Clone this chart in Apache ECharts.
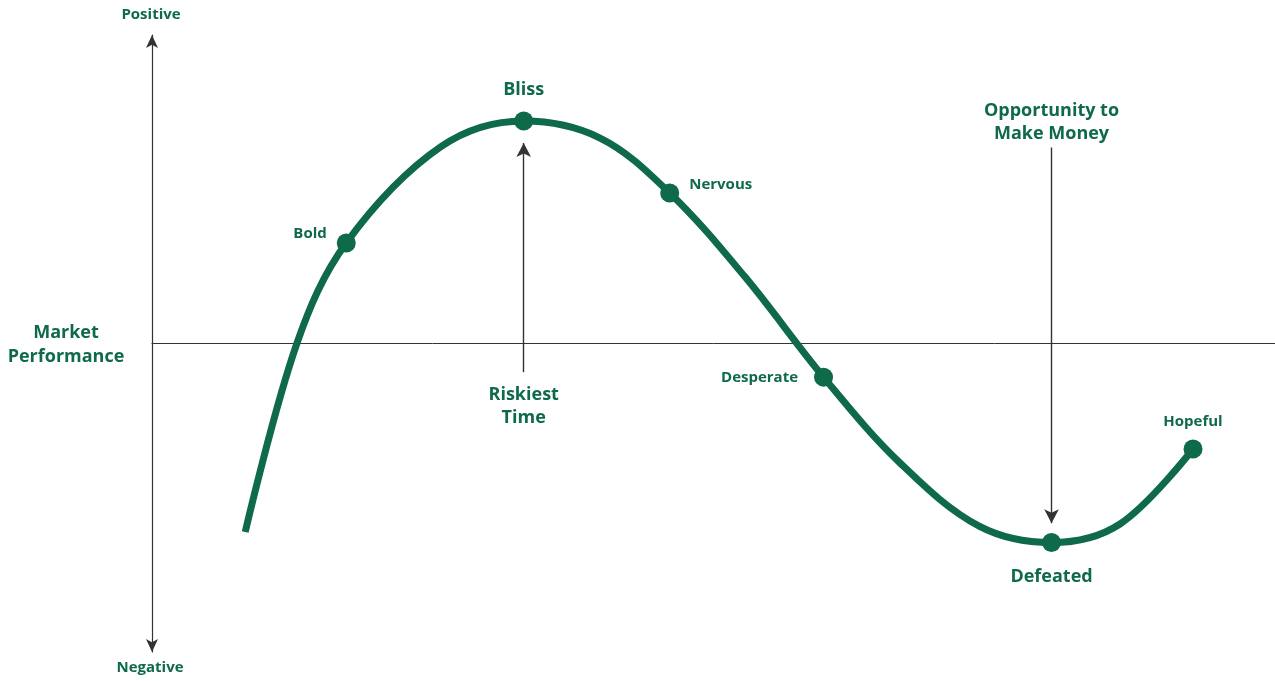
<!DOCTYPE html>
<html>
<head>
<meta charset="utf-8">
<script src="https://cdn.jsdelivr.net/npm/echarts@6/dist/echarts.min.js"></script>
<style>
  html, body { margin: 0; padding: 0; background: #fff; }
  #cycle { width: 1275px; height: 681px; }
</style>
</head>
<body>
<div id="cycle"></div>
<script>
// market cycle curve, x = time (0-100), y = performance (-100..100)
const curveX = [8.3, 12.9, 17.3, 25.7, 33.1, 39.9, 46.1, 52.8, 59.8, 66.6, 73.7, 80.1, 86.2, 92.7]
const curveY = [-61.1, 0, 32.6, 63.7, 72.1, 66.6, 48.8, 21.6, -10.9, -38.7, -59.3, -64.5, -58.5, -34.2]

// emotional stages marked on the curve
const stageNames = ['Bold', 'Bliss', 'Nervous', 'Desperate', 'Defeated', 'Hopeful']
const stageX = [17.3, 33.1, 46.1, 59.8, 80.1, 92.7]
const stageY = [32.6, 72.1, 48.8, -10.9, -64.5, -34.2]

// annotation arrows [x, yFrom, yTo]
const riskiest = [33.1, -9.3, 65.0]
const opportunity = [80.1, 63.5, -58.3]

const green = '#0e6a48'
const dark = '#333333'
const font = '"Open Sans"'

// how each stage label sits around its dot
const stageLabel = {
  Bold:      { position: 'left',   distance: 10, offset: [0, -9], fontSize: 15 },
  Bliss:     { position: 'top',    distance: 13, offset: [0, 0],  fontSize: 18 },
  Nervous:   { position: 'right',  distance: 10, offset: [0, -8], fontSize: 15 },
  Desperate: { position: 'left',   distance: 16, offset: [0, 1],  fontSize: 15 },
  Defeated:  { position: 'bottom', distance: 16, offset: [0, 0],  fontSize: 18 },
  Hopeful:   { position: 'top',    distance: 10, offset: [0, 0],  fontSize: 15 }
}

let myChart = echarts.init(document.getElementById('cycle'))

myChart.setOption({
  animation: false,
  grid: { left: 152, right: 0, top: 35, bottom: 29 },
  xAxis: {
    type: 'value',
    min: 0, max: 100,
    axisLine: { onZero: true, lineStyle: { color: dark, width: 1 } },
    axisTick: { show: false },
    axisLabel: { show: false },
    splitLine: { show: false }
  },
  yAxis: {
    type: 'value',
    min: -100, max: 100,
    axisLine: {
      show: true,
      symbol: ['arrow', 'arrow'],
      symbolSize: [9, 13],
      lineStyle: { color: dark, width: 1.2 }
    },
    axisTick: { show: false },
    axisLabel: { show: false },
    splitLine: { show: false }
  },
  graphic: [
    { type: 'text', x: 151, y: 15, style: { text: 'Positive', fill: green, font: 'bold 15px ' + font, textAlign: 'center', textVerticalAlign: 'middle' } },
    { type: 'text', x: 150, y: 668, style: { text: 'Negative', fill: green, font: 'bold 15px ' + font, textAlign: 'center', textVerticalAlign: 'middle' } },
    { type: 'text', x: 66, y: 345, style: { text: 'Market\nPerformance', fill: green, font: 'bold 18px ' + font, lineHeight: 24, textAlign: 'center', textVerticalAlign: 'middle' } }
  ],
  series: [
    {
      type: 'line',
      smooth: 0.35,
      symbol: 'none',
      data: curveX.map((x, i) => [x, curveY[i]]),
      lineStyle: { color: green, width: 7, cap: 'butt' },
      markLine: {
        silent: true,
        symbol: ['none', 'arrow'],
        symbolSize: [11, 14],
        lineStyle: { color: dark, width: 1.4, type: 'solid' },
        label: {
          show: true,
          position: 'start',
          color: green,
          fontFamily: font,
          fontWeight: 'bold',
          fontSize: 18,
          lineHeight: 23
        },
        data: [
          [{ coord: [riskiest[0], riskiest[1]], label: { formatter: 'Riskiest\nTime', distance: 11 } },
           { coord: [riskiest[0], riskiest[2]] }],
          [{ coord: [opportunity[0], opportunity[1]], label: { formatter: 'Opportunity to\nMake Money', distance: 2 } },
           { coord: [opportunity[0], opportunity[2]] }]
        ]
      },
      z: 2
    },
    {
      type: 'scatter',
      symbolSize: 19,
      itemStyle: { color: green, opacity: 1 },
      data: stageNames.map((name, i) => ({
        name: name,
        value: [stageX[i], stageY[i]],
        label: Object.assign({ show: true, formatter: name }, stageLabel[name])
      })),
      label: {
        color: green,
        fontFamily: font,
        fontWeight: 'bold'
      },
      z: 3
    }
  ]
})
</script>
</body>
</html>
